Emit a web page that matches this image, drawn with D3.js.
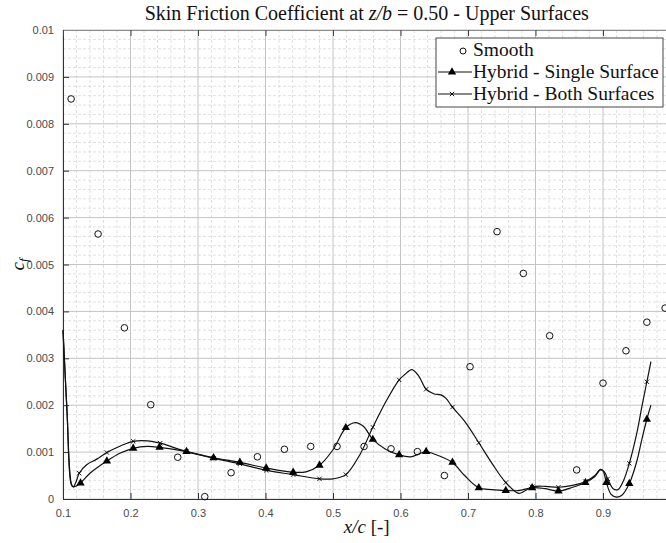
<!DOCTYPE html>
<html>
<head>
<meta charset="utf-8">
<script src="https://cdn.jsdelivr.net/npm/d3@7"></script>
<style>
  html, body { margin: 0; padding: 0; background: #fff; }
  svg { display: block; }
</style>
</head>
<body>
<svg id="chart" width="666" height="543"></svg>
<script>
// Smooth wing: discrete skin-friction samples
const smoothX = [0.112, 0.152, 0.191, 0.230, 0.270, 0.310, 0.349, 0.388, 0.428, 0.467, 0.506, 0.546,
                 0.586, 0.625, 0.665, 0.703, 0.743, 0.782, 0.821, 0.861, 0.900, 0.934, 0.965, 0.992];
const smoothCf = [0.00853, 0.00565, 0.00365, 0.00201, 0.00089, 0.00005, 0.00056, 0.00090, 0.00106, 0.00112, 0.00112, 0.00112,
                  0.00107, 0.00101, 0.00050, 0.00282, 0.00570, 0.00481, 0.00348, 0.00062, 0.00247, 0.00316, 0.00377, 0.00407];

// Hybrid - Single Surface: fitted distribution
const singleX = [0.100, 0.106, 0.112, 0.115, 0.120, 0.126, 0.140, 0.165, 0.185, 0.204, 0.225, 0.243,
                 0.283, 0.323, 0.362, 0.401, 0.441, 0.460, 0.480, 0.500, 0.519, 0.533, 0.545, 0.559,
                 0.578, 0.598, 0.615, 0.627, 0.638, 0.650, 0.677, 0.695, 0.716, 0.735, 0.756, 0.775,
                 0.795, 0.815, 0.834, 0.855, 0.874, 0.888, 0.896, 0.900, 0.905, 0.912, 0.920, 0.928,
                 0.939, 0.950, 0.958, 0.965, 0.971];
const singleCf = [0.00360, 0.00185, 0.00032, 0.00026, 0.00028, 0.00034, 0.00055, 0.00081, 0.00098, 0.00108, 0.00112, 0.00110,
                  0.00101, 0.00088, 0.00078, 0.00066, 0.00057, 0.00058, 0.00072, 0.00105, 0.00152, 0.00163, 0.00155, 0.00127,
                  0.00106, 0.00094, 0.00090, 0.00096, 0.00101, 0.00096, 0.00078, 0.00050, 0.00024, 0.00020, 0.00018, 0.00018,
                  0.00024, 0.00022, 0.00017, 0.00025, 0.00035, 0.00048, 0.00062, 0.00060, 0.00035, 0.00010, 0.00004, 0.00008,
                  0.00033, 0.00080, 0.00130, 0.00170, 0.00200];
const singleMarks = [0.126, 0.165, 0.204, 0.243, 0.283, 0.323, 0.362, 0.401, 0.441, 0.480, 0.519, 0.559,
                     0.598, 0.638, 0.677, 0.716, 0.756, 0.795, 0.834, 0.874, 0.905, 0.939, 0.965];

// Hybrid - Both Surfaces: fitted distribution
const bothX = [0.100, 0.106, 0.112, 0.115, 0.119, 0.124, 0.135, 0.150, 0.165, 0.185, 0.204, 0.225,
               0.244, 0.283, 0.323, 0.362, 0.401, 0.441, 0.480, 0.500, 0.519, 0.540, 0.559, 0.580,
               0.598, 0.606, 0.617, 0.627, 0.638, 0.650, 0.660, 0.667, 0.677, 0.697, 0.716, 0.736,
               0.756, 0.775, 0.785, 0.795, 0.815, 0.834, 0.855, 0.874, 0.888, 0.896, 0.902, 0.907,
               0.915, 0.922, 0.930, 0.939, 0.950, 0.958, 0.965, 0.971];
const bothCf = [0.00360, 0.00185, 0.00035, 0.00026, 0.00035, 0.00055, 0.00073, 0.00085, 0.00099, 0.00113, 0.00123, 0.00124,
                0.00119, 0.00101, 0.00087, 0.00075, 0.00061, 0.00052, 0.00043, 0.00043, 0.00052, 0.00095, 0.00153, 0.00212,
                0.00254, 0.00265, 0.00276, 0.00262, 0.00234, 0.00224, 0.00222, 0.00215, 0.00196, 0.00162, 0.00120, 0.00075,
                0.00035, 0.00012, 0.00018, 0.00026, 0.00027, 0.00025, 0.00029, 0.00037, 0.00050, 0.00063, 0.00058, 0.00043,
                0.00022, 0.00020, 0.00038, 0.00076, 0.00140, 0.00200, 0.00250, 0.00293];
const bothMarks = [0.124, 0.165, 0.204, 0.244, 0.283, 0.323, 0.362, 0.401, 0.441, 0.480, 0.519, 0.559,
                   0.598, 0.638, 0.677, 0.716, 0.756, 0.795, 0.834, 0.874, 0.907, 0.939, 0.965];

// Axis ticks
const xTicks = [0.1, 0.2, 0.3, 0.4, 0.5, 0.6, 0.7, 0.8, 0.9];
const yTicks = [0, 0.001, 0.002, 0.003, 0.004, 0.005, 0.006, 0.007, 0.008, 0.009, 0.01];
const yTickLabels = ["0", "0.001", "0.002", "0.003", "0.004", "0.005", "0.006", "0.007", "0.008", "0.009", "0.01"];
const xTickLabels = ["0.1", "0.2", "0.3", "0.4", "0.5", "0.6", "0.7", "0.8", "0.9"];

const legendNames = ["Smooth", "Hybrid - Single Surface", "Hybrid - Both Surfaces"];

// ---------------------------------------------------------------
const svg = d3.select("#chart");
const pL = 63, pR = 670.5, pT = 30, pB = 499;

const x = d3.scaleLinear().domain([0.1, 1.0]).range([pL, pR]);
const y = d3.scaleLinear().domain([0, 0.01]).range([pB, pT]);

const serif = "'Liberation Serif', 'DejaVu Serif', serif";
const sans = "'Liberation Sans', Arial, sans-serif";

// minor grid
const xMinor = d3.range(0.1, 1.0001, 0.02).filter(v => Math.abs(Math.round(v * 10) - v * 10) > 1e-6);
const yMinor = d3.range(0, 0.01001, 0.0002).filter(v => Math.abs(Math.round(v * 1000) - v * 1000) > 1e-6);

const grid = svg.append("g");
grid.selectAll(".xm").data(xMinor).join("line")
  .attr("x1", d => x(d)).attr("x2", d => x(d)).attr("y1", pT).attr("y2", pB)
  .attr("stroke", "#d8d8d8").attr("stroke-width", 0.8).attr("stroke-dasharray", "3,2");
grid.selectAll(".ym").data(yMinor).join("line")
  .attr("y1", d => y(d)).attr("y2", d => y(d)).attr("x1", pL).attr("x2", pR)
  .attr("stroke", "#d8d8d8").attr("stroke-width", 0.8).attr("stroke-dasharray", "3,2");

// major grid
const xMajor = xTicks.concat([1.0]);
grid.selectAll(".xg").data(xMajor).join("line")
  .attr("x1", d => x(d)).attr("x2", d => x(d)).attr("y1", pT).attr("y2", pB)
  .attr("stroke", "#c4c4c4").attr("stroke-width", 1);
grid.selectAll(".yg").data(yTicks).join("line")
  .attr("y1", d => y(d)).attr("y2", d => y(d)).attr("x1", pL).attr("x2", pR)
  .attr("stroke", "#c4c4c4").attr("stroke-width", 1);

// axes (ticks point inward)
const xAxis = d3.axisBottom(x).tickValues(xTicks).tickSize(-6).tickPadding(10)
  .tickFormat((d, i) => xTickLabels[i]);
const yAxis = d3.axisLeft(y).tickValues(yTicks).tickSize(-6).tickPadding(9)
  .tickFormat((d, i) => yTickLabels[i]);
const xTop = d3.axisTop(x).tickValues(xTicks).tickSize(-6).tickFormat("");

const gx = svg.append("g").attr("transform", `translate(0,${pB})`).call(xAxis);
const gy = svg.append("g").attr("transform", `translate(${pL},0)`).call(yAxis);
const gt = svg.append("g").attr("transform", `translate(0,${pT})`).call(xTop);

[gx, gy].forEach(g => {
  g.select(".domain").attr("stroke", "#333").attr("stroke-width", 1);
  g.selectAll(".tick line").attr("stroke", "#333");
  g.selectAll(".tick text").attr("fill", "#4a4a4a").style("font-family", sans).style("font-size", "11px");
});
gt.select(".domain").attr("stroke", "#8a8a8a").attr("stroke-width", 1);
gt.selectAll(".tick line").attr("stroke", "#444");

// curves
const line = d3.line().x(d => x(d[0])).y(d => y(d[1])).curve(d3.curveCatmullRom.alpha(0.5));
const singlePts = singleX.map((v, i) => [v, singleCf[i]]);
const bothPts = bothX.map((v, i) => [v, bothCf[i]]);

svg.append("path").datum(bothPts).attr("d", line)
  .attr("fill", "none").attr("stroke", "#111").attr("stroke-width", 1.2);
svg.append("path").datum(singlePts).attr("d", line)
  .attr("fill", "none").attr("stroke", "#111").attr("stroke-width", 1.2);

const lookup = (xs, cs, v) => cs[xs.findIndex(e => Math.abs(e - v) < 1e-9)];

const tri = d3.symbol().type(d3.symbolTriangle).size(30);
svg.append("g").selectAll("path").data(singleMarks).join("path")
  .attr("d", tri)
  .attr("transform", d => `translate(${x(d)},${y(lookup(singleX, singleCf, d))})`)
  .attr("fill", "#000");

const cross = d3.symbol().type(d3.symbolTimes).size(14);
svg.append("g").selectAll("path").data(bothMarks).join("path")
  .attr("d", cross)
  .attr("transform", d => `translate(${x(d)},${y(lookup(bothX, bothCf, d))})`)
  .attr("fill", "none").attr("stroke", "#000").attr("stroke-width", 0.9);

svg.append("g").selectAll("circle").data(smoothX).join("circle")
  .attr("cx", d => x(d)).attr("cy", (d, i) => y(smoothCf[i])).attr("r", 3.3)
  .attr("fill", "none").attr("stroke", "#111").attr("stroke-width", 1);

// title
const title = svg.append("text")
  .attr("x", (pL + pR) / 2).attr("y", 20).attr("text-anchor", "middle")
  .style("font-family", serif).style("font-size", "20px").attr("fill", "#111");
title.append("tspan").text("Skin Friction Coefficient at ");
title.append("tspan").style("font-style", "italic").text("z/b");
title.append("tspan").text(" = 0.50 - Upper Surfaces");

// axis labels
const xl = svg.append("text")
  .attr("x", (pL + pR) / 2).attr("y", 533).attr("text-anchor", "middle")
  .style("font-family", serif).style("font-size", "19px").attr("fill", "#111");
xl.append("tspan").style("font-style", "italic").text("x/c");
xl.append("tspan").text(" [-]");

const yl = svg.append("text")
  .attr("transform", `translate(24,${(pT + pB) / 2}) rotate(-90)`)
  .attr("text-anchor", "middle")
  .style("font-family", serif).style("font-size", "19px").attr("fill", "#111");
yl.append("tspan").style("font-style", "italic").text("c");
yl.append("tspan").style("font-style", "italic").style("font-size", "13px").attr("dy", 4).text("f");

// legend
const lg = svg.append("g");
lg.append("rect").attr("x", 436).attr("y", 38).attr("width", 227).attr("height", 69)
  .attr("fill", "#fff").attr("stroke", "#333").attr("stroke-width", 0.9);
const rowY = [50, 72, 94];
lg.append("circle").attr("cx", 463).attr("cy", rowY[0] + 1).attr("r", 3)
  .attr("fill", "none").attr("stroke", "#111").attr("stroke-width", 1);
[1, 2].forEach(k => {
  lg.append("line").attr("x1", 438).attr("x2", 472).attr("y1", rowY[k]).attr("y2", rowY[k])
    .attr("stroke", "#111").attr("stroke-width", 1.2);
});
lg.append("path").attr("d", tri).attr("transform", `translate(452,${rowY[1]})`).attr("fill", "#000");
lg.append("path").attr("d", cross).attr("transform", `translate(452,${rowY[2]})`)
  .attr("fill", "none").attr("stroke", "#000").attr("stroke-width", 0.9);
lg.selectAll("text.lbl").data(legendNames).join("text")
  .attr("x", 473).attr("y", (d, i) => rowY[i] + 6)
  .style("font-family", serif).style("font-size", "19.5px").attr("fill", "#111")
  .text(d => d);
</script>
</body>
</html>
